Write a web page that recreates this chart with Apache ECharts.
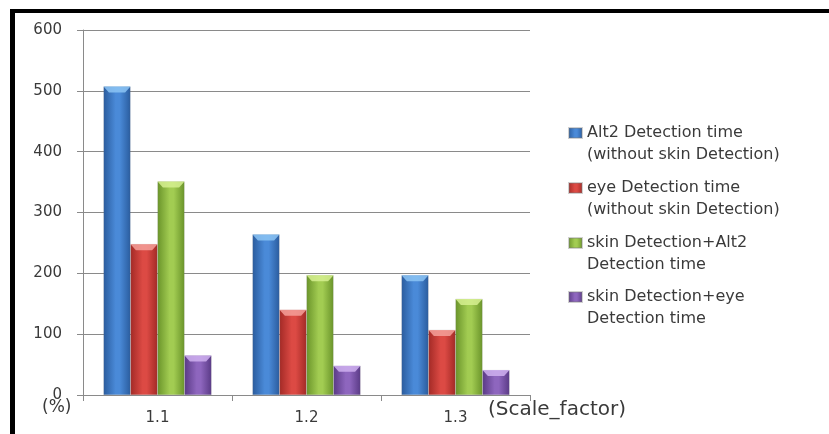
<!DOCTYPE html>
<html>
<head>
<meta charset="utf-8">
<script src="https://cdn.jsdelivr.net/npm/echarts@6/dist/echarts.min.js"></script>
<style>
  html, body { margin: 0; padding: 0; background: #ffffff; }
  #chart { width: 829px; height: 434px; }
</style>
</head>
<body>
<div id="chart"></div>
<script>
// Detection time per scale factor
const categories = ['1.1', '1.2', '1.3'];
const seriesNames = [
  'Alt2 Detection time\n(without skin Detection)',
  'eye Detection time\n(without skin Detection)',
  'skin Detection+Alt2\nDetection time',
  'skin Detection+eye\nDetection time'
];
const alt2Time = [507, 264, 197];
const eyeTime = [248, 140, 107];
const skinAlt2Time = [351, 197, 158];
const skinEyeTime = [65, 48, 41];
const yTicks = { min: 0, max: 600, step: 100 };

const values = [alt2Time, eyeTime, skinAlt2Time, skinEyeTime];

// shading: [edge, centre, cap] per series
const palette = [
  ['#2a5c9e', '#4a8ad8', '#8cc4f4'],
  ['#a32a26', '#dc4a44', '#f4a09a'],
  ['#6a942a', '#a2cc52', '#d6f090'],
  ['#5a3a86', '#8e66be', '#cfb0f0']
];

const FONT = 'DejaVu Sans';
const TEXT = '#3a3a3a';
const BAR_W = 27;

function shade(p) {
  return new echarts.graphic.LinearGradient(0, 0, 1, 0, [
    { offset: 0, color: p[0] },
    { offset: 0.45, color: p[1] },
    { offset: 0.6, color: p[1] },
    { offset: 1, color: p[0] }
  ]);
}

const series = [];
values.forEach((v, i) => {
  series.push({
    name: seriesNames[i],
    type: 'bar',
    data: v,
    barWidth: BAR_W,
    barGap: '0%',
    itemStyle: { color: shade(palette[i]), borderColor: 'rgba(120,120,120,0.35)', borderWidth: 0.5 },
    emphasis: { disabled: true }
  });
});
// bevelled caps on top of each bar
values.forEach((v, i) => {
  series.push({
    type: 'pictorialBar',
    data: v,
    symbol: 'path://M0,0 L10,0 L8,6 L2,6 Z',
    symbolSize: [BAR_W, 6],
    symbolPosition: 'end',
    symbolOffset: [(i - 1.5) * BAR_W, 0],
    z: 3,
    itemStyle: { color: palette[i][2], opacity: 0.85 },
    silent: true
  });
});

// one legend block per series; a leading blank line keeps the swatch
// level with the first line of its two-line label
const legendTops = [100, 155, 210, 264];
const legends = seriesNames.map((n, i) => ({
  data: [n],
  orient: 'vertical',
  left: 568,
  top: legendTops[i],
  padding: 0,
  itemWidth: 13,
  itemHeight: 10,
  itemGap: 0,
  selectedMode: false,
  icon: 'rect',
  formatter: (name) => '\n' + name,
  textStyle: {
    fontFamily: FONT,
    fontSize: 16,
    color: TEXT,
    lineHeight: 22
  }
}));

const chart = echarts.init(document.getElementById('chart'), null, { renderer: 'canvas' });
chart.setOption({
  backgroundColor: '#ffffff',
  animation: false,
  grid: { left: 83, right: 299, top: 30, bottom: 39, containLabel: false },
  legend: legends,
  xAxis: {
    type: 'category',
    data: categories,
    axisLine: { show: true, lineStyle: { color: '#8a8a8a', width: 1 } },
    axisTick: { show: true, length: 6, lineStyle: { color: '#8a8a8a' } },
    axisLabel: { fontFamily: FONT, fontSize: 15, color: TEXT, margin: 16 },
    splitLine: { show: false }
  },
  yAxis: {
    type: 'value',
    min: yTicks.min,
    max: yTicks.max,
    interval: yTicks.step,
    axisLine: { show: true, lineStyle: { color: '#8a8a8a', width: 1 } },
    axisTick: { show: true, length: 6, lineStyle: { color: '#8a8a8a' } },
    axisLabel: { fontFamily: FONT, fontSize: 15, color: TEXT, margin: 21 },
    splitLine: { show: true, lineStyle: { color: '#8a8a8a', width: 1 } }
  },
  graphic: [
    { type: 'rect', left: 10, top: 9, shape: { width: 819, height: 4 }, style: { fill: '#000' } },
    { type: 'rect', left: 10, top: 9, shape: { width: 5, height: 425 }, style: { fill: '#000' } },
    { type: 'text', left: 42, top: 399, style: { text: '(%)', font: '17px "DejaVu Sans"', fill: TEXT } },
    { type: 'text', left: 488, top: 400, style: { text: '(Scale_factor)', font: '20px "DejaVu Sans"', fill: TEXT } }
  ],
  series: series
});
</script>
</body>
</html>
